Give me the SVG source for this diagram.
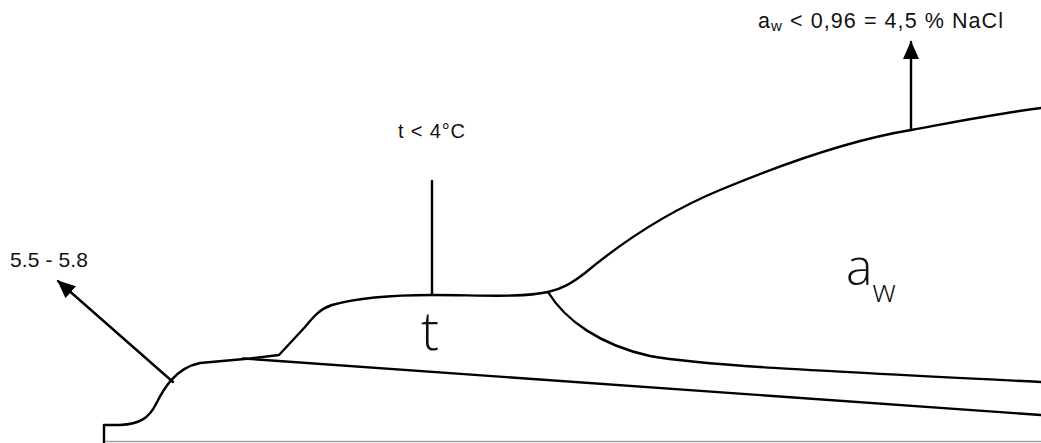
<svg xmlns="http://www.w3.org/2000/svg" width="1041" height="443" viewBox="0 0 1041 443">
<style>
.ln{fill:none;stroke:#000;stroke-width:2.4;stroke-linejoin:round;stroke-linecap:round}
.lbl{font-family:"Liberation Sans",Arial,sans-serif;fill:#111}
.big{font-family:"Open Sans","DejaVu Sans",sans-serif;font-weight:300;fill:#111}
</style>
<defs>
<marker id="head" viewBox="0 0 18 16" refX="17" refY="8" markerWidth="18" markerHeight="16" markerUnits="userSpaceOnUse" orient="auto">
<path d="M0,0 L18,8 L0,16 Z" fill="#000"/>
</marker>
</defs>
<rect width="1041" height="443" fill="#fff"/>
<g id="base">
<path d="M104,441.5 H1041" fill="none" stroke="#a0a0a0" stroke-width="1.5"/>
</g>
<g id="connectors">
<path class="ln" d="M104,443 V425 H120 C140,424 149,418 156,404 C163,390 175,368 200,363 L250,358.5 L279,355 L305,327 C314,316 320,309 332,305 C360,297 395,295 432,295 C480,295 520,298 548,292 C562,289 572,283 585,273 C615,248 660,215 720,190 C780,165 850,140 911,130 C960,121 1000,113 1041,108"/>
<path class="ln" d="M548,292 C565,320 600,345 650,356 C700,365 800,370 1041,382"/>
<path class="ln" d="M243,358.5 L1041,415"/>
<path class="ln" d="M432,295 V181"/>
<path class="ln" d="M173,382 L58,281" marker-end="url(#head)"/>
<path class="ln" d="M911,130 L911,42" marker-end="url(#head)"/>
</g>
<g id="label-ph">
<text class="lbl" x="10" y="267" font-size="21" textLength="78" lengthAdjust="spacing">5.5 - 5.8</text>
</g>
<g id="label-temp">
<text class="lbl" x="398" y="138" font-size="20" textLength="67" lengthAdjust="spacing">t &lt; 4°C</text>
</g>
<g id="label-aw">
<text class="lbl" x="758" y="28" font-size="21.5" textLength="245" lengthAdjust="spacing">a<tspan font-size="15" dy="3">w</tspan><tspan dy="-3"> &lt; 0,96 = 4,5 % NaCl</tspan></text>
</g>
<g id="zone-t">
<text class="big" x="421" y="350" font-size="54">t</text>
</g>
<g id="zone-aw">
<text class="big" x="846" y="285" font-size="50">a<tspan font-size="32" dy="17">w</tspan></text>
</g>
</svg>
